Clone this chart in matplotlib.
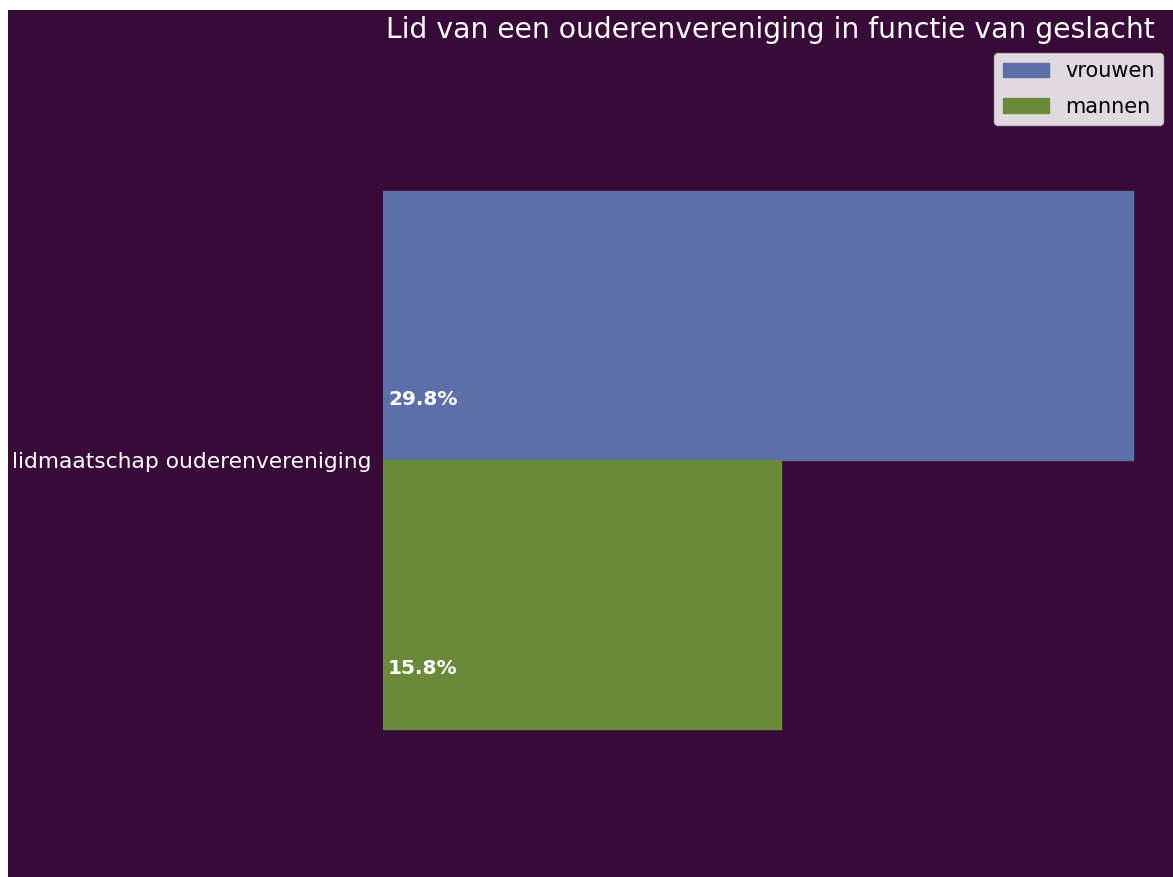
import matplotlib
matplotlib.use("Agg")
import matplotlib.pyplot as plt
from matplotlib.patches import Rectangle

category = "lidmaatschap ouderenvereniging"
groups = ["vrouwen", "mannen"]
values = [29.8, 15.8]
colors = ["#5d6fa8", "#6a8a3a"]
title = "Lid van een ouderenvereniging in functie van geslacht"

bg = "#380a38"
fig = plt.figure(figsize=(11.73, 8.77), dpi=100)
fig.patch.set_facecolor("white")
fig.patches.append(Rectangle((8/1173, 0), 1, (877-10)/877, transform=fig.transFigure,
                             facecolor=bg, edgecolor="none", zorder=-10))

ax = fig.add_axes([383/1173, 17/877, (1171-383)/1173, 800/877])
ax.set_facecolor(bg)
ax.patch.set_alpha(0)

h = 0.4
offsets = [h/2, -h/2]
for g, v, c, off in zip(groups, values, colors, offsets):
    ax.barh(off, v, height=h, color=c, label=g, edgecolor=c)
    ax.text(0.2, off - 0.11, f"{v:.1f}%", color="white", fontsize=14.5,
            fontweight="bold", va="center", ha="left")

ax.set_xlim(0, max(values) * 1.05)
ax.set_ylim(-400/672.5, 400/672.5)
ax.set_yticks([0])
ax.set_yticklabels([category], color="white", fontsize=15.7)
ax.tick_params(axis="y", length=0, pad=8)
ax.set_xticks([])
for s in ax.spines.values():
    s.set_visible(False)

fig.text(770/1173, 1 - 30/877, title, color="white", fontsize=20.3, ha="center", va="center")

leg = ax.legend(loc="upper right", fontsize=15, frameon=True, borderaxespad=0.0,
                labelspacing=0.75, handlelength=2.2)
leg.get_frame().set_facecolor("white")
leg.get_frame().set_alpha(0.85)
leg.set_bbox_to_anchor((1163/1173, 1 - 53/877), transform=fig.transFigure)

fig.savefig("out.png", dpi=100, facecolor=fig.get_facecolor())
